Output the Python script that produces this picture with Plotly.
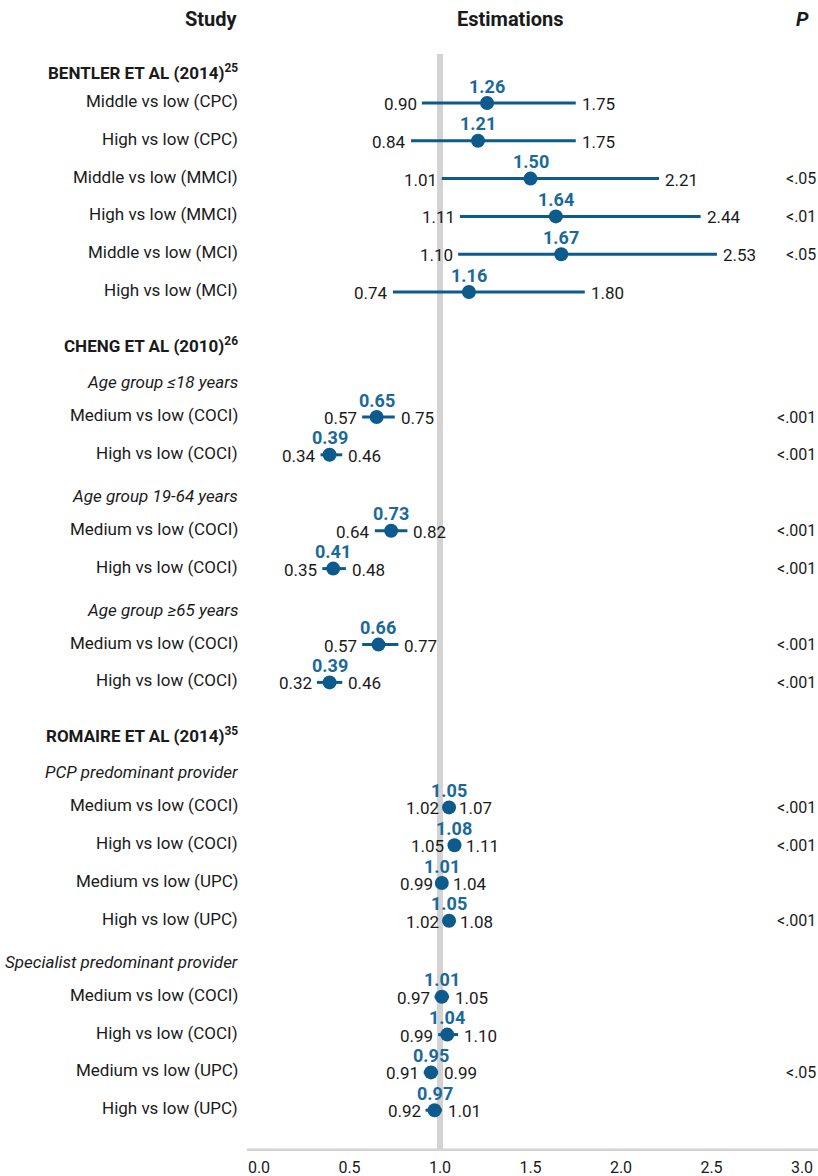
import plotly.graph_objects as go

# ---- data -------------------------------------------------------------
comparisons = [
    "Middle vs low (CPC)", "High vs low (CPC)", "Middle vs low (MMCI)",
    "High vs low (MMCI)", "Middle vs low (MCI)", "High vs low (MCI)",
    "Medium vs low (COCI)", "High vs low (COCI)",
    "Medium vs low (COCI)", "High vs low (COCI)",
    "Medium vs low (COCI)", "High vs low (COCI)",
    "Medium vs low (COCI)", "High vs low (COCI)",
    "Medium vs low (UPC)", "High vs low (UPC)",
    "Medium vs low (COCI)", "High vs low (COCI)",
    "Medium vs low (UPC)", "High vs low (UPC)",
]
estimates = [1.26, 1.21, 1.50, 1.64, 1.67, 1.16,
             0.65, 0.39, 0.73, 0.41, 0.66, 0.39,
             1.05, 1.08, 1.01, 1.05, 1.01, 1.04, 0.95, 0.97]
lower = [0.90, 0.84, 1.01, 1.11, 1.10, 0.74,
         0.57, 0.34, 0.64, 0.35, 0.57, 0.32,
         1.02, 1.05, 0.99, 1.02, 0.97, 0.99, 0.91, 0.92]
upper = [1.75, 1.75, 2.21, 2.44, 2.53, 1.80,
         0.75, 0.46, 0.82, 0.48, 0.77, 0.46,
         1.07, 1.11, 1.04, 1.08, 1.05, 1.10, 0.99, 1.01]
p_values = ["", "", "<.05", "<.01", "<.05", "",
            "<.001", "<.001", "<.001", "<.001", "<.001", "<.001",
            "<.001", "<.001", "", "<.001", "", "", "<.05", ""]

studies = [("BENTLER ET AL (2014)", "25"), ("CHENG ET AL (2010)", "26"),
           ("ROMAIRE ET AL (2014)", "35")]
subgroups = ["Age group ≤18 years", "Age group 19-64 years", "Age group ≥65 years",
             "PCP predominant provider", "Specialist predominant provider"]
tick_values = [0.0, 0.5, 1.0, 1.5, 2.0, 2.5, 3.0]

# row order: study header (s), subgroup header (g), comparison row (d)
row_kinds = (["s"] + ["d"] * 6 +
             ["s", "g", "d", "d", "g", "d", "d", "g", "d", "d"] +
             ["s", "g"] + ["d"] * 4 + ["g"] + ["d"] * 4)

# ---- layout geometry (pixels) -----------------------------------------
W, H = 818, 1176
AXIS_Y = 1151
X0_PX, PX_PER_UNIT = 259, 181
LABEL_RIGHT = 240
gaps = {("s", "d"): 31, ("d", "d"): 37.8, ("d", "s"): 53, ("s", "g"): 37,
        ("g", "d"): 35, ("d", "g"): 41}

row_y = []
y = 72
for i, k in enumerate(row_kinds):
    if i > 0:
        y += gaps[(row_kinds[i - 1], k)]
    row_y.append(y)

data_y = [yy for yy, k in zip(row_y, row_kinds) if k == "d"]

BLUE = "#0d5a8d"
LABEL_BLUE = "#1b699b"
GREY = "#d3d3d3"
TXT = "#1a1a1a"
FONT = "Roboto"
FS = 17

fig = go.Figure()

# confidence interval segments
xs, ys = [], []
for lo, hi, yy in zip(lower, upper, data_y):
    xs += [lo, hi, None]
    ys += [yy, yy, None]
fig.add_trace(go.Scatter(x=xs, y=ys, mode="lines",
                         line=dict(color=BLUE, width=3), hoverinfo="skip"))

# point estimates
fig.add_trace(go.Scatter(x=estimates, y=data_y, mode="markers",
                         marker=dict(color=BLUE, size=14)))

annotations = []


def note(x, y, text, xanchor, size, color=TXT, xref="paper", xshift=0, yshift=0):
    annotations.append(dict(x=x, y=y, text=text, xanchor=xanchor, yanchor="middle",
                            xref=xref, yref="y", showarrow=False,
                            xshift=xshift, yshift=yshift,
                            font=dict(family=FONT, size=size, color=color)))


# estimate values and interval bounds
for est, lo, hi, yy in zip(estimates, lower, upper, data_y):
    note(est, yy, f"<b>{est:.2f}</b>", "center", FS + 1, LABEL_BLUE, xref="x", yshift=17)
    note(lo, yy, f"{lo:.2f}", "right", FS, xref="x", xshift=-3, yshift=-1)
    note(hi, yy, f"{hi:.2f}", "left", FS, xref="x", xshift=4, yshift=-1)

# column headers
note(LABEL_RIGHT / W, 19, "<b>Study</b>", "right", 20)
note(510 / W, 19, "<b>Estimations</b>", "center", 20)
note(811 / W, 19, "<b><i>P</i></b>", "right", 20)

si = gi = di = 0
for k, yy in zip(row_kinds, row_y):
    if k == "s":
        name, ref = studies[si]
        si += 1
        note(LABEL_RIGHT / W, yy, f"<b>{name}<sup>{ref}</sup></b>", "right", 17)
    elif k == "g":
        note(LABEL_RIGHT / W, yy, f"<i>{subgroups[gi]}</i>", "right", FS)
        gi += 1
    else:
        note(LABEL_RIGHT / W, yy - 2, comparisons[di], "right", FS)
        if p_values[di]:
            note(818 / W, yy, p_values[di], "right", FS - 1)
        di += 1

shapes = [
    # reference line at 1.0
    dict(type="line", xref="x", yref="y", x0=1, x1=1, y0=54, y1=AXIS_Y,
         line=dict(color=GREY, width=6), layer="below"),
    # horizontal axis line
    dict(type="line", xref="paper", yref="y", x0=247 / W, x1=1, y0=AXIS_Y, y1=AXIS_Y,
         line=dict(color=GREY, width=5), layer="below"),
]

x_min = -X0_PX / PX_PER_UNIT
x_max = (W - X0_PX) / PX_PER_UNIT

fig.update_layout(
    width=W, height=H,
    margin=dict(l=0, r=0, t=0, b=H - AXIS_Y, autoexpand=False),
    paper_bgcolor="white", plot_bgcolor="white",
    showlegend=False,
    annotations=annotations, shapes=shapes,
    xaxis=dict(range=[x_min, x_max], tickvals=tick_values,
               ticktext=[f"{v:.1f}" for v in tick_values],
               showgrid=False, zeroline=False, showline=False, automargin=False,
               ticks="outside", ticklen=2, tickcolor="rgba(0,0,0,0)",
               tickfont=dict(family=FONT, size=FS - 1, color=TXT), fixedrange=True),
    yaxis=dict(range=[AXIS_Y, 0], visible=False, fixedrange=True, automargin=False),
)

fig.write_html("out.html")
